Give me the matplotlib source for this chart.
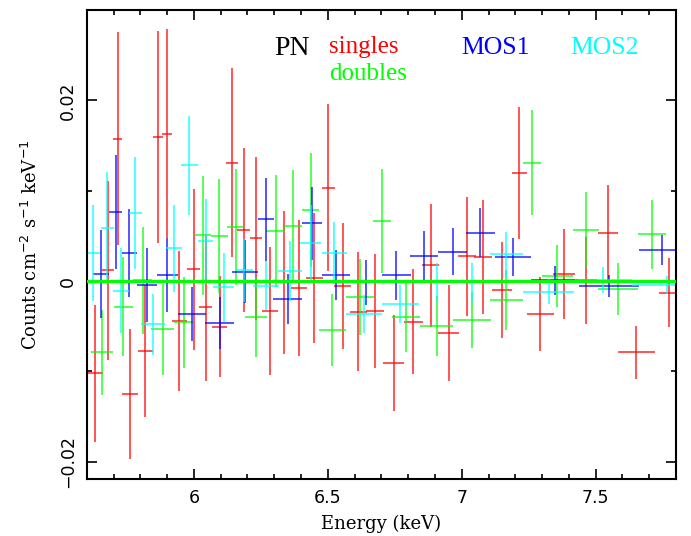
import matplotlib
matplotlib.use("Agg")
import matplotlib.pyplot as plt
from matplotlib.ticker import MultipleLocator, FixedLocator

# ---- data (energy keV, half bin width, value, 1-sigma error) ----
red_e = [5.632, 5.678, 5.716, 5.762, 5.819, 5.866, 5.901, 5.946, 6.000, 6.044,
         6.097, 6.143, 6.186, 6.232, 6.284, 6.337, 6.392, 6.449, 6.502, 6.555,
         6.614, 6.676, 6.746, 6.819, 6.884, 6.952, 7.020, 7.080, 7.151, 7.214,
         7.293, 7.382, 7.465, 7.546, 7.652, 7.774]
red_de = [0.029, 0.022, 0.0175, 0.029, 0.029, 0.019, 0.019, 0.028, 0.024, 0.025,
          0.028, 0.022, 0.024, 0.023, 0.031, 0.028, 0.031, 0.032, 0.025, 0.030,
          0.031, 0.034, 0.039, 0.036, 0.031, 0.039, 0.033, 0.034, 0.038, 0.028,
          0.051, 0.042, 0.040, 0.037, 0.070, 0.039]
red_y = [-0.0102, 0.00122, 0.01577, -0.01252, -0.00773, 0.01594, 0.01632, -0.00442, 0.00133, -0.00291,
         -0.00505, 0.01312, 0.00564, 0.00472, -0.00328, -0.00014, -0.00074, 0.0003, 0.01035, -0.00055,
         -0.00339, -0.00328, -0.0091, -0.0045, 0.00177, -0.00571, 0.00276, 0.00269, -0.00099, 0.01201,
         -0.00365, 0.00077, 0.0001, 0.00527, -0.00788, -0.00129]
red_dy = [0.0076, 0.0099, 0.0118, 0.0072, 0.0073, 0.0117, 0.0116, 0.0077, 0.0089, 0.0081,
          0.0056, 0.0105, 0.0091, 0.0090, 0.0071, 0.0079, 0.0075, 0.0072, 0.0092, 0.0070,
          0.0066, 0.0063, 0.0053, 0.0058, 0.0068, 0.0053, 0.0066, 0.0063, 0.0053, 0.0073,
          0.0041, 0.0050, 0.0048, 0.0054, 0.0029, 0.0038]

green_e = [5.657, 5.737, 5.809, 5.883, 5.964, 6.034, 6.095, 6.157, 6.232, 6.305,
           6.371, 6.437, 6.517, 6.620, 6.703, 6.791, 6.906, 7.039, 7.166, 7.263,
           7.357, 7.465, 7.584, 7.711]
green_de = [0.042, 0.037, 0.036, 0.042, 0.037, 0.031, 0.031, 0.032, 0.042, 0.034,
            0.033, 0.032, 0.051, 0.051, 0.034, 0.053, 0.063, 0.071, 0.061, 0.034,
            0.059, 0.049, 0.075, 0.053]
green_y = [-0.00788, -0.00284, 0.0001, -0.00534, -0.00456, 0.00508, 0.00501, 0.0060, -0.00401, 0.00552,
           0.00615, 0.00785, -0.00541, -0.00173, 0.00666, -0.00401, -0.0050, -0.00434, -0.0021, 0.01312,
           0.00055, 0.00564, -0.00088, 0.00516]
green_dy = [0.0047, 0.0055, 0.0059, 0.0050, 0.0050, 0.0066, 0.0063, 0.0064, 0.0044, 0.0062,
            0.0062, 0.0063, 0.0040, 0.0042, 0.0058, 0.0038, 0.0033, 0.0031, 0.0033, 0.0058,
            0.0034, 0.0042, 0.0029, 0.0038]

blue_e = [5.653, 5.708, 5.759, 5.826, 5.901, 5.992, 6.097, 6.191, 6.269, 6.350,
          6.441, 6.530, 6.642, 6.755, 6.860, 6.966, 7.070, 7.192, 7.347, 7.550, 7.746]
blue_de = [0.031, 0.023, 0.029, 0.038, 0.038, 0.053, 0.054, 0.047, 0.030, 0.053,
           0.037, 0.053, 0.061, 0.054, 0.053, 0.054, 0.053, 0.068, 0.087, 0.113, 0.083]
blue_y = [0.00077, 0.00766, 0.00313, -0.00044, 0.00066, -0.00365, -0.00461, 0.00103, 0.00682, -0.00199,
          0.00638, 0.00066, -0.00014, 0.00063, 0.00273, 0.00324, 0.00534, 0.00262, 0.0001, -0.00055, 0.00343]
blue_dy = [0.0049, 0.0063, 0.0049, 0.0041, 0.0041, 0.0030, 0.0029, 0.0035, 0.0046, 0.0028,
           0.0040, 0.0028, 0.0025, 0.0027, 0.0028, 0.0026, 0.0027, 0.0021, 0.0016, 0.0012, 0.0017]

cyan_e = [5.625, 5.677, 5.729, 5.781, 5.849, 5.925, 5.983, 6.044, 6.112, 6.187,
          6.269, 6.359, 6.437, 6.524, 6.636, 6.771, 6.906, 7.040, 7.167, 7.325,
          7.528, 7.768]
cyan_de = [0.026, 0.023, 0.030, 0.024, 0.045, 0.029, 0.031, 0.029, 0.039, 0.035,
           0.047, 0.044, 0.039, 0.047, 0.068, 0.068, 0.065, 0.070, 0.061, 0.096,
           0.106, 0.134]
cyan_y = [0.00313, 0.00589, -0.00107, 0.00755, -0.00479, 0.00361, 0.01282, 0.00442, -0.0007, 0.0012,
          -0.00052, 0.0011, 0.00425, 0.00313, -0.00368, -0.00254, -0.00007, -0.00014, 0.00298, -0.00118,
          0.00011, -0.00044]
cyan_dy = [0.0053, 0.0062, 0.0047, 0.0062, 0.0034, 0.0048, 0.0055, 0.0047, 0.0038, 0.0035,
           0.0027, 0.0033, 0.0042, 0.0034, 0.0021, 0.0021, 0.0021, 0.0021, 0.0025, 0.0014,
           0.0014, 0.0010]

xmin, xmax = 5.6, 7.8
ymin, ymax = -0.0219, 0.0300

fig = plt.figure(figsize=(6.91, 5.36), dpi=100)
ax = fig.add_axes([0.1255, 0.1063, 0.8528, 0.8750])

series = [(red_e, red_de, red_y, red_dy, '#ff0000'),
          (green_e, green_de, green_y, green_dy, '#00ff00'),
          (blue_e, blue_de, blue_y, blue_dy, '#0000ff'),
          (cyan_e, cyan_de, cyan_y, cyan_dy, '#00ffff')]
for e, de, y, dy, c in series:
    ax.errorbar(e, y, xerr=de, yerr=dy, fmt='none', ecolor=c, elinewidth=1.1,
                capsize=0, alpha=0.85)

ax.axhline(0, color='#00ff00', lw=2.3, zorder=5)

ax.set_xlim(xmin, xmax)
ax.set_ylim(ymin, ymax)

ax.xaxis.set_major_locator(FixedLocator([6, 6.5, 7, 7.5]))
ax.xaxis.set_minor_locator(MultipleLocator(0.1))
ax.yaxis.set_major_locator(FixedLocator([-0.02, 0, 0.02]))
ax.yaxis.set_minor_locator(FixedLocator([-0.01, 0.01]))
ax.set_xticklabels(['6', '6.5', '7', '7.5'], fontfamily='DejaVu Sans', fontsize=12.5)
ax.set_yticklabels(['\u22120.02', '0', '0.02'], fontfamily='DejaVu Sans', fontsize=12.5,
                   rotation=90, va='center')
ax.tick_params(which='both', direction='in', top=True, right=True, width=1.2, colors='black')
ax.tick_params(which='major', length=7, pad=7)
ax.tick_params(which='minor', length=3.5)
for s in ax.spines.values():
    s.set_linewidth(1.5)

ax.set_xlabel('Energy (keV)', fontfamily='DejaVu Serif', fontsize=13, labelpad=6)
ax.set_ylabel('Counts cm$^{-2}$ s$^{-1}$ keV$^{-1}$', fontfamily='DejaVu Serif',
              fontsize=13, labelpad=13)

lab_font = 'Liberation Serif'
ax.text(6.365, 0.0257, 'PN', color='black', fontsize=20, family=lab_font, ha='center', va='center')
ax.text(6.635, 0.0259, 'singles', color='#ff0000', fontsize=18, family=lab_font, ha='center', va='center')
ax.text(6.652, 0.0229, 'doubles', color='#00ff00', fontsize=18, family=lab_font, ha='center', va='center')
ax.text(7.127, 0.0258, 'MOS1', color='#0000ff', fontsize=18.5, family=lab_font, ha='center', va='center')
ax.text(7.533, 0.0258, 'MOS2', color='#00ffff', fontsize=18.5, family=lab_font, ha='center', va='center')

fig.savefig('out.png', dpi=100)
